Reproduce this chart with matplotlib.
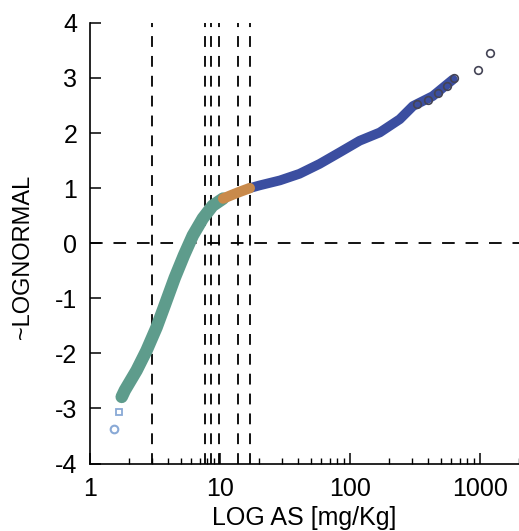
import numpy as np
import matplotlib
matplotlib.use("Agg")
import matplotlib.pyplot as plt

plt.rcParams['font.family'] = ['Liberation Sans Narrow', 'Liberation Sans', 'DejaVu Sans']

# valori (quantili ~lognormale vs concentrazione As)
x_low_out = [1.53, 1.67]
y_low_out = [-3.37, -3.06]

x_teal = [1.76, 1.86, 2.29, 2.73, 3.26, 3.78, 4.5, 5.3, 6.2, 7.4, 8.8, 10.6]
y_teal = [-2.79, -2.67, -2.31, -1.95, -1.53, -1.12, -0.63, -0.22, 0.14, 0.45, 0.68, 0.81]

x_orange = [10.6, 12.5, 14.5, 17.0]
y_orange = [0.81, 0.88, 0.94, 1.0]

x_blue = [17.0, 20.3, 29, 41, 58.6, 83.7, 119, 170, 242, 306, 434, 620]
y_blue = [1.0, 1.05, 1.14, 1.26, 1.44, 1.65, 1.86, 2.01, 2.25, 2.49, 2.67, 2.97]

x_high_out = [330, 400, 480, 560, 630, 966, 1200]
y_high_out = [2.52, 2.6, 2.72, 2.86, 2.99, 3.15, 3.46]

# soglie (linee verticali)
soglie = [3.0, 7.7, 8.5, 9.9, 13.9, 17.1]

xticks = [1, 10, 100, 1000]
yticks = [-4, -3, -2, -1, 0, 1, 2, 3, 4]

fig = plt.figure(figsize=(5.19, 5.31), dpi=100)
ax = fig.add_axes([0.173, 0.127, 0.827, 0.830])

for s in soglie:
    ax.axvline(s, color='black', lw=1.3, dashes=(6, 5), zorder=1)
ax.axhline(0, color='black', lw=1.3, dashes=(7, 6), zorder=1)

ax.plot(x_teal, y_teal, color='#5e9c8c', lw=9, solid_capstyle='round', zorder=3)
ax.plot(x_orange, y_orange, color='#c98a4b', lw=7.5, solid_capstyle='round', zorder=4)
ax.plot(x_blue, y_blue, color='#3b4ea0', lw=7, solid_capstyle='round', zorder=3)
ax.plot(x_high_out, y_high_out, 'o', mfc='none', mec='#444455', ms=5.5, mew=1.2, zorder=5)
ax.plot(x_low_out[1:], y_low_out[1:], 's', mfc='none', mec='#89a9d6', ms=5, mew=1.3, zorder=5)
ax.plot(x_low_out[:1], y_low_out[:1], 'o', mfc='none', mec='#89a9d6', ms=5.5, mew=1.5, zorder=5)

ax.set_xscale('log')
ax.set_xlim(1, 2000)
ax.set_ylim(-4, 4)
ax.set_xticks(xticks)
ax.set_xticklabels([str(t) for t in xticks])
ax.set_yticks(yticks)
ax.set_yticklabels([str(t) for t in yticks])

ax.spines['top'].set_visible(False)
ax.spines['right'].set_visible(False)
for sp in ['left', 'bottom']:
    ax.spines[sp].set_linewidth(1.2)

ax.tick_params(axis='both', which='major', direction='in', length=8, width=1.1,
               labelsize=18, pad=9)
ax.tick_params(axis='x', which='minor', direction='in', length=4, width=1.0)
ax.tick_params(axis='x', which='major', pad=10)

ax.set_xlabel('LOG AS [mg/Kg]', fontsize=18, labelpad=3)
ax.set_ylabel('~LOGNORMAL', fontsize=17, family=['Liberation Sans', 'DejaVu Sans'])
ax.yaxis.set_label_coords(-0.13, 0.47)

fig.savefig('out.png', dpi=100)
